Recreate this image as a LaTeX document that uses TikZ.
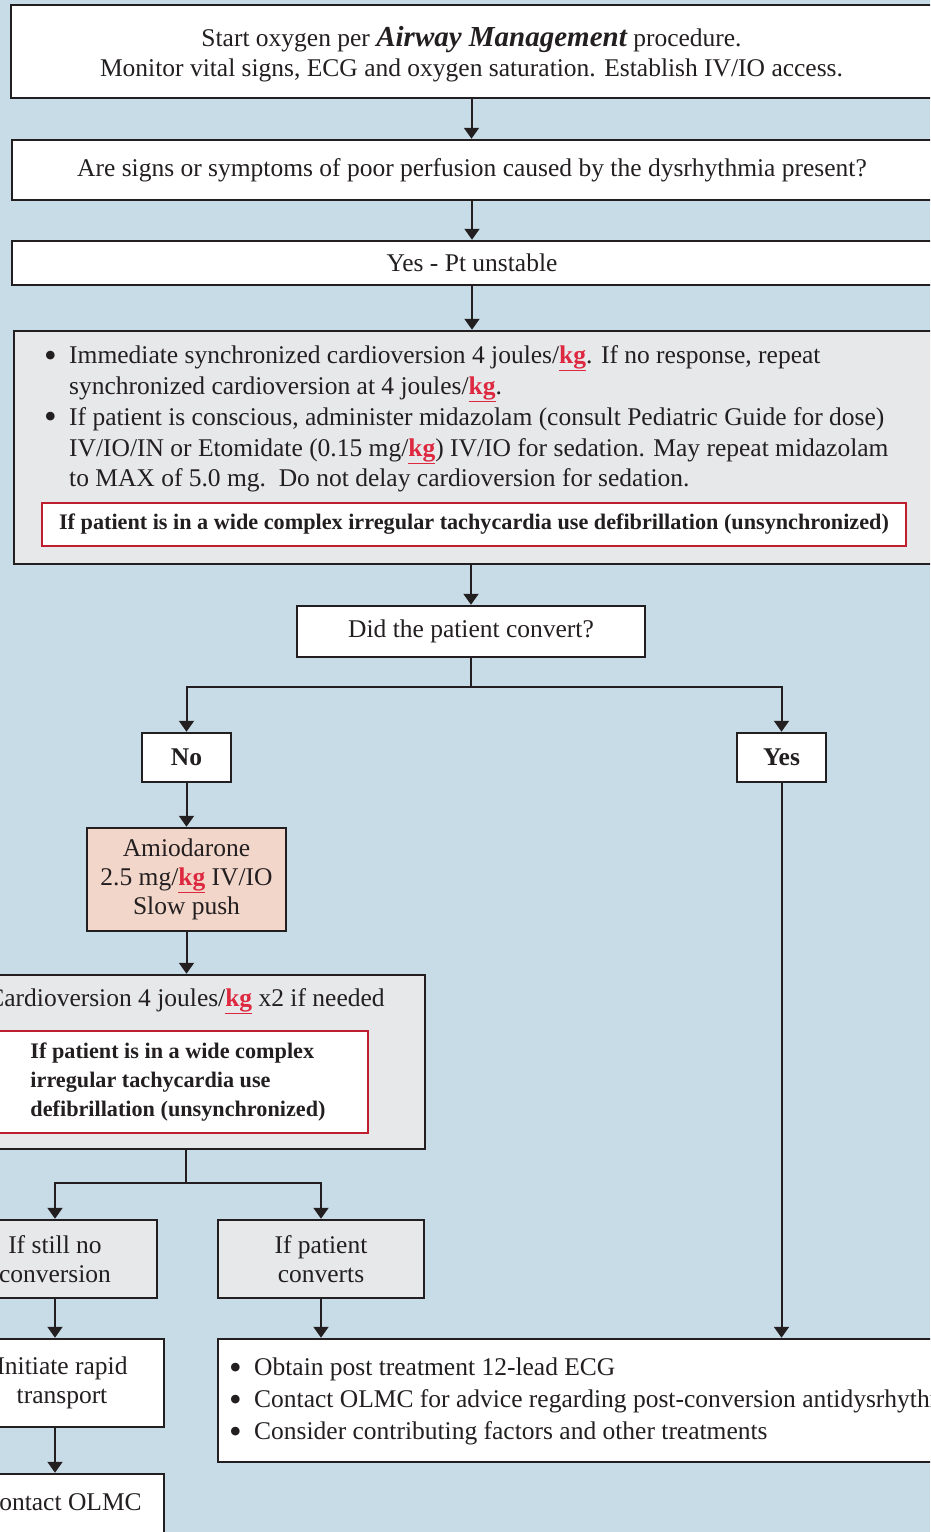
\documentclass[tikz,border=0pt]{standalone}
\usepackage{fontspec}
\setmainfont{Liberation Serif}
\usetikzlibrary{arrows.meta}
\definecolor{bgblue}{HTML}{C8DCE7}
\definecolor{boxgray}{HTML}{E7E8EA}
\definecolor{salmon}{HTML}{F3D6CA}
\definecolor{redline}{HTML}{BE1E2D}
\definecolor{kgred}{HTML}{DE2840}
\definecolor{ink}{HTML}{231F20}
\newcommand{\kgu}{\textcolor{kgred}{\textbf{\underline{kg}}}}
\newcommand{\bul}{\makebox[25pt][l]{\raisebox{-3.5pt}[0pt][0pt]{\fontsize{36}{0}\selectfont\textbullet}}}
\begin{document}
\begin{tikzpicture}[x=1pt,y=-1pt,
  box/.style={draw=ink,line width=2.5pt,fill=white,inner sep=0pt,align=center,
    font=\fontsize{25.5}{30}\selectfont,text=ink},
  graybox/.style={box,fill=boxgray},
  redbox/.style={draw=redline,line width=2.5pt,fill=white,inner sep=0pt,
    font=\fontsize{22.2}{29}\selectfont\bfseries,text=ink},
  txt/.style={inner sep=0pt,text=ink,font=\fontsize{25.5}{30}\selectfont},
  arr/.style={draw=ink,line width=2pt,-{Triangle[width=15pt,length=11pt]}},
  link/.style={draw=ink,line width=2pt}]
\useasboundingbox (0,0) rectangle (930,1532);
\clip (0,0) rectangle (930,1532);
\fill[bgblue] (0,0) rectangle (930,1532);

% top of the chart
\node[box,minimum width=921pt,minimum height=93pt] (start) at (471.5,51.5) {};
\node[txt,align=center] (starttext) at (471.5,54.5)
  {Start oxygen per {\fontsize{29}{30}\selectfont\bfseries\itshape Airway Management} procedure.\\
   Monitor vital signs, ECG and oxygen saturation. Establish IV/IO access.};
\node[box,minimum width=920pt,minimum height=60pt] (ask) at (472,170)
  {Are signs or symptoms of poor perfusion caused by the dysrhythmia present?};
\node[box,minimum width=920pt,minimum height=44pt] (unst) at (472,263)
  {Yes - Pt unstable};

% cardioversion block
\node[graybox,minimum width=918pt,minimum height=233pt] (cv) at (473,447.5) {};
\node[txt,anchor=north west,align=left,font=\fontsize{25.5}{30.8}\selectfont] (cvtext) at (44,345.5)
  {\bul Immediate synchronized cardioversion 4 joules/\kgu. If no response, repeat\\
   \hspace*{25pt}synchronized cardioversion at 4 joules/\kgu.\\
   \bul If patient is conscious, administer midazolam (consult Pediatric Guide for dose)\\
   \hspace*{25pt}IV/IO/IN or Etomidate (0.15 mg/\kgu) IV/IO for sedation. May repeat midazolam\\
   \hspace*{25pt}to MAX of 5.0 mg.\ \ Do not delay cardioversion for sedation.};
\node[redbox,minimum width=864pt,minimum height=43pt] (warn1) at (474,524.5)
  {If patient is in a wide complex irregular tachycardia use defibrillation (unsynchronized)};

\node[box,minimum width=348pt,minimum height=51pt] (did) at (471,631.5)
  {Did the patient convert?};
\node[box,minimum width=89pt,minimum height=49pt,font=\fontsize{25.5}{30}\selectfont\bfseries] (no) at (186.5,757.5) {No};
\node[box,minimum width=89pt,minimum height=49pt,font=\fontsize{25.5}{30}\selectfont\bfseries] (yes) at (781.5,757.5) {Yes};

\node[box,fill=salmon,minimum width=199pt,minimum height=103pt,font=\fontsize{25.5}{29}\selectfont] (amio) at (186.5,879.5)
  {Amiodarone\\2.5 mg/\kgu{} IV/IO\\Slow push};

\node[graybox,minimum width=478pt,minimum height=174pt] (cv2) at (186,1062) {};
\node[txt] (cv2text) at (186,1001) {Cardioversion 4 joules/\kgu{} x2 if needed};
\node[redbox,minimum width=380pt,minimum height=102pt,align=left,font=\fontsize{22.2}{29}\selectfont\bfseries] (warn2) at (178,1082)
  {If patient is in a wide complex\\irregular tachycardia use\\defibrillation (unsynchronized)};

\node[graybox,minimum width=204pt,minimum height=78pt,font=\fontsize{25.5}{29}\selectfont] (still) at (55,1259)
  {If still no\\conversion};
\node[graybox,minimum width=206pt,minimum height=78pt,font=\fontsize{25.5}{29}\selectfont] (conv) at (321,1259)
  {If patient\\converts};

\node[box,minimum width=204pt,minimum height=88pt,font=\fontsize{25.5}{29}\selectfont] (init) at (62,1383)
  {Initiate rapid\\transport};
\node[box,minimum width=204pt,minimum height=140pt] (olmc) at (62,1544) {};
\node[txt] (olmctext) at (62,1502) {Contact OLMC};

\node[box,minimum width=782pt,minimum height=123pt] (post) at (609,1400.5) {};
\node[txt,anchor=north west,align=left,font=\fontsize{25.5}{32}\selectfont] (posttext) at (229,1358)
  {\bul Obtain post treatment 12-lead ECG\\
   \bul Contact OLMC for advice regarding post-conversion antidysrhythmic\\
   \bul Consider contributing factors and other treatments};

% connectors
\draw[arr] (start.south) -- (start.south |- ask.north);
\draw[arr] (ask.south) -- (ask.south |- unst.north);
\draw[arr] (unst.south) -- (unst.south |- cv.north);
\draw[arr] (cv.south -| did.north) -- (did.north);
\coordinate (split1) at ([yshift=-29pt]did.south);
\draw[link] (did.south) -- (split1);
\draw[arr] (split1) -| (no.north);
\draw[arr] (split1) -| (yes.north);
\draw[arr] (no.south) -- (amio.north);
\draw[arr] (amio.south) -- (amio.south |- cv2.north);
\coordinate (split2) at ([yshift=-33pt]cv2.south);
\draw[link] (cv2.south) -- (split2);
\draw[arr] (split2) -| (still.north);
\draw[arr] (split2) -| (conv.north);
\draw[arr] (still.south) -- (still.south |- init.north);
\draw[arr] (init.south -| still.south) -- (still.south |- olmc.north);
\draw[arr] (conv.south) -- (conv.south |- post.north);
\draw[arr] (yes.south) -- (yes.south |- post.north);
\end{tikzpicture}
\end{document}
